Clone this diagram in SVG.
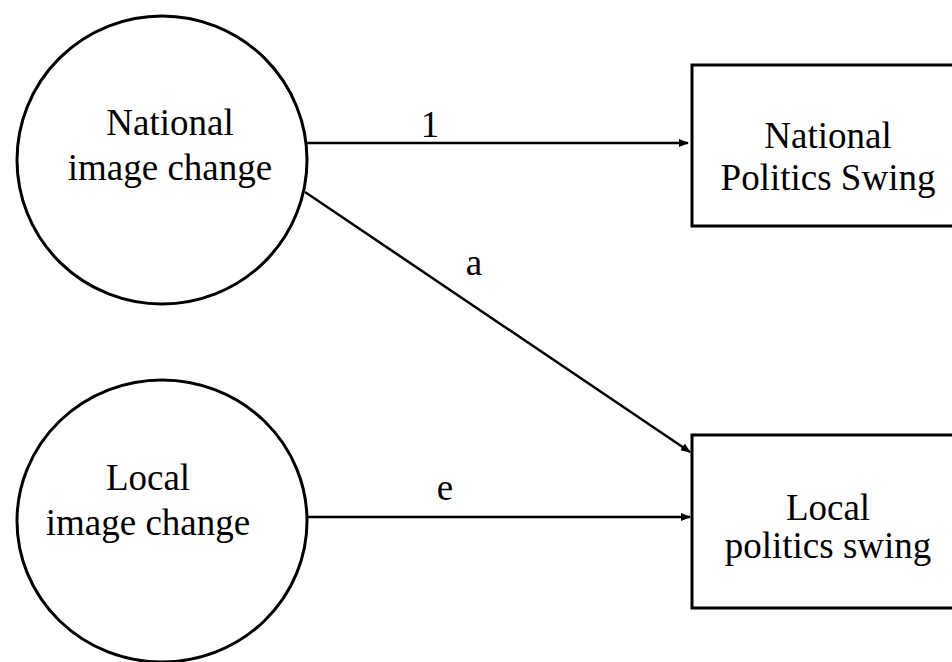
<svg xmlns="http://www.w3.org/2000/svg" width="952" height="662" viewBox="0 0 952 662">
<style>
.node{fill:#fff;stroke:#000;stroke-width:3}
.t{font-family:"Liberation Serif","Times New Roman",serif;font-size:37px;fill:#000;text-anchor:middle}
.edge{stroke:#000;stroke-width:2.5;fill:none}
</style>
<defs>
<marker id="arr" markerWidth="10" markerHeight="8" refX="9" refY="4" orient="auto" markerUnits="userSpaceOnUse">
<path d="M0,0 L10,4 L0,8 Z" fill="#000"/>
</marker>
</defs>
<rect width="952" height="662" fill="#fff"/>
<g id="connectors">
<line class="edge" x1="306" y1="143" x2="688" y2="143" marker-end="url(#arr)"/>
<line class="edge" x1="305" y1="192" x2="690" y2="452" marker-end="url(#arr)"/>
<line class="edge" x1="307" y1="517" x2="690" y2="517" marker-end="url(#arr)"/>
<text class="t" x="430" y="137">1</text>
<text class="t" x="474" y="275">a</text>
<text class="t" x="445" y="500">e</text>
</g>
<g id="national-image">
<ellipse class="node" cx="162" cy="160" rx="145" ry="144"/>
<text class="t" x="170" y="135">National</text>
<text class="t" x="170" y="180">image change</text>
</g>
<g id="local-image">
<ellipse class="node" cx="162" cy="521" rx="145" ry="141"/>
<text class="t" x="148" y="490">Local</text>
<text class="t" x="148" y="535">image change</text>
</g>
<g id="national-swing">
<rect class="node" x="692" y="65" width="280" height="161"/>
<text class="t" x="828" y="148">National</text>
<text class="t" x="828" y="190">Politics Swing</text>
</g>
<g id="local-swing">
<rect class="node" x="692" y="435" width="280" height="173"/>
<text class="t" x="828" y="520">Local</text>
<text class="t" x="828" y="558">politics swing</text>
</g>
</svg>
